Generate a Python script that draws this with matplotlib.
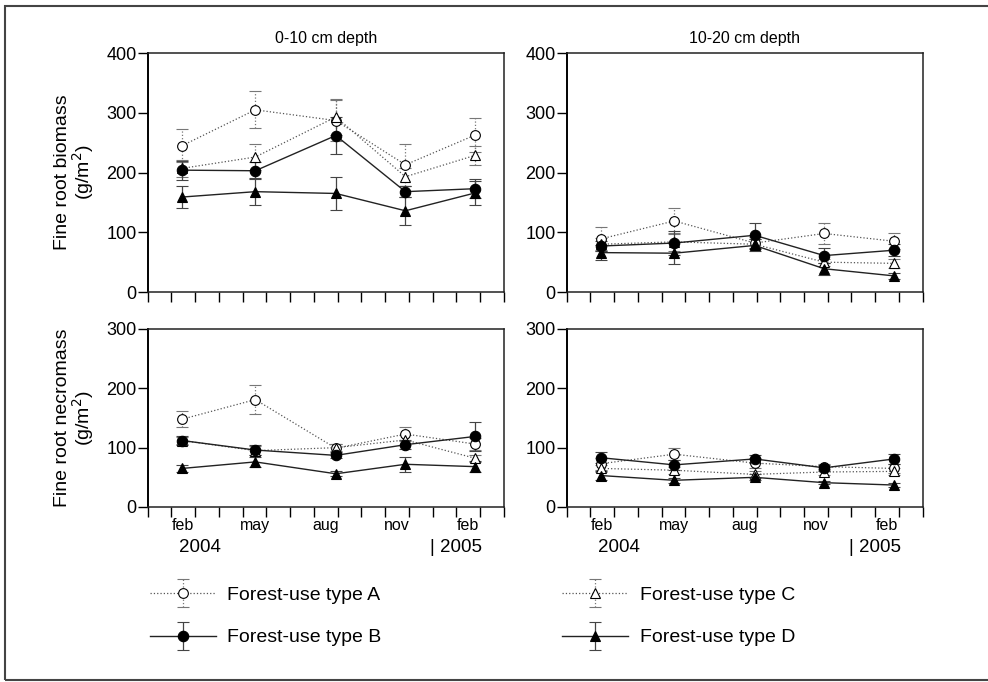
import matplotlib
matplotlib.use("Agg")
import matplotlib.pyplot as plt
import matplotlib.transforms as mtransforms
from matplotlib.patches import Rectangle
from matplotlib.container import ErrorbarContainer
from matplotlib.legend_handler import HandlerErrorbar

plt.rcParams['font.family'] = ['Liberation Sans', 'DejaVu Sans']

# sampling dates in months since 1 Jan 2004
sample_x = [1.45, 4.53, 7.92, 10.85, 13.8]
month_labels = ['feb', 'may', 'aug', 'nov', 'feb']
month_label_x = [1.5, 4.5, 7.5, 10.5, 13.5]
series_names = ['Forest-use type A', 'Forest-use type B', 'Forest-use type C', 'Forest-use type D']

# fine root biomass, 0-10 cm
bio_top_A = [245, 305, 287, 213, 263]
bio_top_A_err = [28, 31, 35, 35, 28]
bio_top_B = [204, 203, 262, 168, 173]
bio_top_B_err = [16, 14, 31, 9, 16]
bio_top_C = [207, 226, 293, 193, 229]
bio_top_C_err = [14, 22, 30, 15, 16]
bio_top_D = [159, 168, 165, 136, 166]
bio_top_D_err = [19, 23, 27, 23, 20]

# fine root biomass, 10-20 cm
bio_sub_A = [89, 119, 82, 98, 85]
bio_sub_A_err = [20, 22, 10, 18, 13]
bio_sub_B = [77, 82, 95, 61, 70]
bio_sub_B_err = [8, 20, 21, 13, 10]
bio_sub_C = [80, 84, 80, 50, 48]
bio_sub_C_err = [10, 15, 8, 6, 8]
bio_sub_D = [66, 65, 78, 39, 27]
bio_sub_D_err = [13, 18, 10, 10, 5]

# fine root necromass, 0-10 cm
nec_top_A = [148, 181, 99, 123, 106]
nec_top_A_err = [13, 24, 8, 11, 10]
nec_top_B = [112, 96, 87, 105, 119]
nec_top_B_err = [7, 8, 5, 8, 24]
nec_top_C = [112, 95, 100, 113, 82]
nec_top_C_err = [6, 7, 6, 8, 6]
nec_top_D = [65, 76, 56, 72, 68]
nec_top_D_err = [6, 8, 4, 13, 9]

# fine root necromass, 10-20 cm
nec_sub_A = [73, 89, 74, 68, 65]
nec_sub_A_err = [10, 10, 8, 5, 8]
nec_sub_B = [83, 71, 81, 66, 81]
nec_sub_B_err = [9, 8, 7, 5, 8]
nec_sub_C = [65, 62, 55, 59, 60]
nec_sub_C_err = [6, 6, 6, 5, 6]
nec_sub_D = [53, 45, 50, 41, 37]
nec_sub_D_err = [7, 4, 5, 3, 4]

styles = {
    'A': dict(marker='o', mfc='white', mec='black', ms=7, mew=0.8, color='#555555',
              ls=':', lw=0.9, ecolor='#777777', ls_err=':'),
    'B': dict(marker='o', mfc='black', mec='black', ms=7.5, mew=0.8, color='#222222',
              ls='-', lw=1.0, ecolor='#444444', ls_err='-'),
    'C': dict(marker='^', mfc='white', mec='black', ms=6.5, mew=0.8, color='#555555',
              ls=':', lw=0.9, ecolor='#777777', ls_err=':'),
    'D': dict(marker='^', mfc='black', mec='black', ms=6.5, mew=0.8, color='#222222',
              ls='-', lw=1.0, ecolor='#444444', ls_err='-'),
}


def draw_series(ax, y, err, key):
    st = dict(styles[key])
    ls_err = st.pop('ls_err')
    ecolor = st.pop('ecolor')
    cont = ax.errorbar(sample_x, y, yerr=err, capsize=4.5, capthick=0.9,
                       elinewidth=0.9, ecolor=ecolor, **st)
    for bl in cont[2]:
        bl.set_linestyle(ls_err)
    return cont


def style_axes(ax, ymax, bottom_labels):
    ax.set_xlim(0, 15)
    ax.set_ylim(0, ymax)
    ax.set_yticks(range(0, ymax + 1, 100))
    ax.set_xticks(range(16))
    ax.set_xticks(month_label_x, minor=True)
    ax.tick_params(axis='x', which='major', direction='out', length=7, width=1,
                   labelbottom=False)
    ax.tick_params(axis='x', which='minor', length=0, pad=8, labelsize=11.5,
                   labelbottom=bottom_labels)
    if bottom_labels:
        ax.set_xticklabels(month_labels, minor=True)
    ax.tick_params(axis='y', direction='out', length=7, width=1, labelsize=13, pad=1)
    for side in ['top', 'right', 'bottom']:
        ax.spines[side].set_linewidth(1.1)
        ax.spines[side].set_color('#222222')
    ax.spines['left'].set_linewidth(1.4)
    if bottom_labels:
        trans = mtransforms.blended_transform_factory(ax.transData, ax.transAxes)
        ax.text(2.2, -0.23, '2004', transform=trans, ha='center', va='center', fontsize=13.5)
        ax.text(11.9, -0.23, '| 2005', transform=trans, ha='left', va='center', fontsize=13.5)


fig = plt.figure(figsize=(9.88, 6.82), dpi=100)

ax_tl = fig.add_axes([0.1495, 0.5718, 0.3606, 0.3504])
ax_tr = fig.add_axes([0.5736, 0.5718, 0.3603, 0.3504])
ax_bl = fig.add_axes([0.1495, 0.2566, 0.3606, 0.2610])
ax_br = fig.add_axes([0.5736, 0.2566, 0.3603, 0.2610])

panels = [
    (ax_tl, [bio_top_A, bio_top_C, bio_top_B, bio_top_D],
     [bio_top_A_err, bio_top_C_err, bio_top_B_err, bio_top_D_err], 400, False),
    (ax_tr, [bio_sub_A, bio_sub_C, bio_sub_B, bio_sub_D],
     [bio_sub_A_err, bio_sub_C_err, bio_sub_B_err, bio_sub_D_err], 400, False),
    (ax_bl, [nec_top_A, nec_top_C, nec_top_B, nec_top_D],
     [nec_top_A_err, nec_top_C_err, nec_top_B_err, nec_top_D_err], 300, True),
    (ax_br, [nec_sub_A, nec_sub_C, nec_sub_B, nec_sub_D],
     [nec_sub_A_err, nec_sub_C_err, nec_sub_B_err, nec_sub_D_err], 300, True),
]

handles = {}
for ax, ys, errs, ymax, bottom in panels:
    for key, y, e in zip(['A', 'C', 'B', 'D'], ys, errs):
        handles[key] = draw_series(ax, y, e, key)
    style_axes(ax, ymax, bottom)

ax_tl.set_title('0-10 cm depth', fontsize=11.5, pad=7)
ax_tr.set_title('10-20 cm depth', fontsize=11.5, pad=7)

ax_tl.text(-0.204, 0.5, 'Fine root biomass\n(g/m$^2$)', transform=ax_tl.transAxes,
           rotation=90, ha='center', va='center', fontsize=14, linespacing=1.0)
ax_bl.text(-0.204, 0.5, 'Fine root necromass\n(g/m$^2$)', transform=ax_bl.transAxes,
           rotation=90, ha='center', va='center', fontsize=14, linespacing=1.0)

fig.legend([handles['A'], handles['B'], handles['C'], handles['D']], series_names,
           ncol=2, loc='upper left', bbox_to_anchor=(149.5 / 988, 0.1408),
           frameon=False, fontsize=14, handlelength=3.4, handletextpad=0.6,
           columnspacing=9.3, labelspacing=1.3, borderpad=0, borderaxespad=0,
           numpoints=1,
           handler_map={ErrorbarContainer: HandlerErrorbar(xerr_size=0.72, yerr_size=0.72)})

# outer frame of the figure
fig.patches.append(Rectangle((5 / 988, 2 / 682), 1.2, 674 / 682, transform=fig.transFigure,
                             fill=False, edgecolor='#444444', linewidth=1.5))

fig.savefig('out.png', dpi=100)
